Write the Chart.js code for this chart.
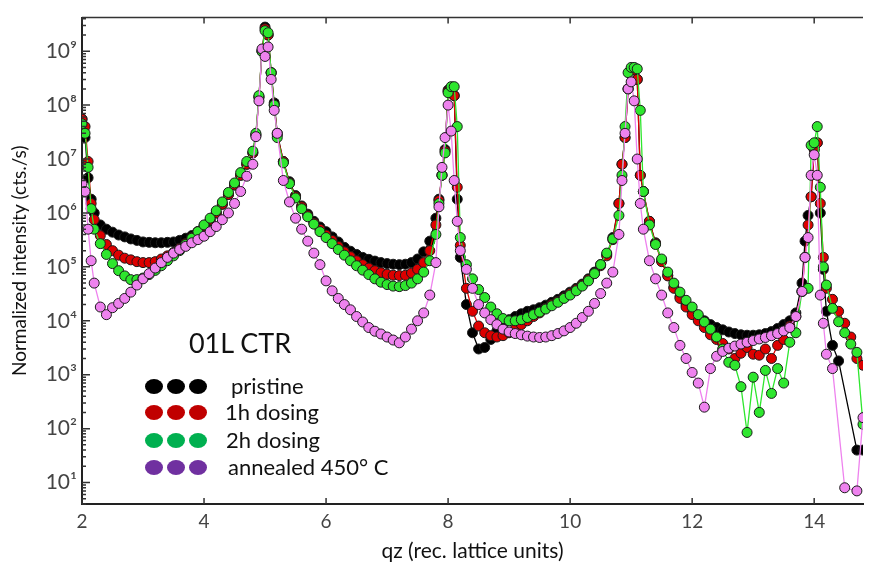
<!DOCTYPE html>
<html>
<head>
<meta charset="utf-8">
<script src="https://cdn.jsdelivr.net/npm/chart.js@4.4.1/dist/chart.umd.min.js"></script>
<style>
  body { margin: 0; background: #fff; }
  #wrap { position: relative; width: 869px; height: 566px; overflow: hidden; }
  #note { position: absolute; left: 240px; top: 342px; transform: translate(-50%, -50%);
          font: 27px Lato, "Noto Sans", sans-serif; color: #111; white-space: nowrap; }
  .row { position: absolute; left: 145px; height: 16px; }
  .dot { position: absolute; top: 0; width: 18px; height: 15px; border-radius: 50%; }
  .lab { position: absolute; font: 22px Lato, "Noto Sans", sans-serif; color: #111;
         white-space: nowrap; line-height: 22px; top: -4px; }
</style>
</head>
<body>
<div id="wrap">
  <canvas id="ctr" width="869" height="566"></canvas>
  <div id="note">01L CTR</div>
</div>
<script>
// qz grid (rec. lattice units)
const qz = [
  2.0, 2.05, 2.1, 2.15, 2.2, 2.3, 2.4, 2.5, 2.6, 2.7, 2.8, 2.9,
  3.0, 3.1, 3.2, 3.3, 3.4, 3.5, 3.6, 3.7, 3.8, 3.9,
  4.0, 4.1, 4.2, 4.3, 4.4, 4.5, 4.6, 4.7, 4.8, 4.85, 4.9, 4.95,
  5.0, 5.05, 5.1, 5.15, 5.2, 5.3, 5.4, 5.5, 5.6, 5.7, 5.8, 5.9,
  6.0, 6.1, 6.2, 6.3, 6.4, 6.5, 6.6, 6.7, 6.8, 6.9,
  7.0, 7.1, 7.2, 7.3, 7.4, 7.5, 7.6, 7.7, 7.8, 7.85, 7.9, 7.95,
  8.0, 8.05, 8.1, 8.15, 8.2, 8.3, 8.4, 8.5, 8.6, 8.7, 8.8, 8.9,
  9.0, 9.1, 9.2, 9.3, 9.4, 9.5, 9.6, 9.7, 9.8, 9.9,
  10.0, 10.1, 10.2, 10.3, 10.4, 10.5, 10.6, 10.7, 10.8, 10.85, 10.9, 10.95,
  11.0, 11.05, 11.1, 11.15, 11.2, 11.3, 11.4, 11.5, 11.6, 11.7, 11.8, 11.9,
  12.0, 12.1, 12.2, 12.3, 12.4, 12.5, 12.6, 12.7, 12.8, 12.9,
  13.0, 13.1, 13.2, 13.3, 13.4, 13.5, 13.6, 13.7, 13.8, 13.85, 13.9, 13.95,
  14.0, 14.05, 14.1, 14.15, 14.2, 14.3, 14.4, 14.5, 14.6, 14.7, 14.8
];

// intensities (cts./s), null = no point at that qz
const pristine = [
  5.5e7, 2.5e7, 4.5e6, 1.8e6, 1e6, 6e5, 5e5, 4.4e5, 3.9e5, 3.6e5, 3.3e5, 3.1e5,
  2.9e5, 2.85e5, 2.8e5, 2.8e5, 2.85e5, 2.9e5, 3.1e5, 3.4e5, 3.8e5, 4.5e5,
  5.5e5, 7.2e5, 1e6, 1.45e6, 2.2e6, 3.3e6, 5e6, 8e6, 1.3e7, 2.8e7, 1.4e8, 1e9,
  2.8e9, 2e9, 4e8, 1.1e8, 3e7, 9e6, 3.8e6, 2.1e6, 1.35e6, 9.5e5, 7e5, 5.5e5,
  4.5e5, 3.6e5, 2.9e5, 2.3e5, 1.95e5, 1.7e5, 1.5e5, 1.38e5, 1.28e5, 1.2e5,
  1.15e5, 1.12e5, 1.1e5, 1.12e5, 1.2e5, 1.4e5, 1.9e5, 3e5, 8e5, 1.8e6, 5e6, 1.5e7,
  1.9e8, 2e8, 1.5e8, 1.8e6, 1.5e5, 2e4, 6e3, 3e3, 3.2e3, 4.5e3, 6.5e3, 8.5e3,
  1.05e4, 1.2e4, 1.35e4, 1.5e4, 1.6e4, 1.75e4, 1.95e4, 2.2e4, 2.5e4, 2.9e4,
  3.4e4, 4e4, 4.8e4, 6e4, 8e4, 1.1e5, 1.7e5, 3.5e5, 1.5e6, 8e6, 2.5e7, 2e8,
  4.5e8, 4.5e8, 3e8, 5e6, 2.5e6, 7e5, 2.8e5, 1.3e5, 7e4, 4.2e4, 2.8e4, 2e4,
  1.5e4, 1.2e4, 1e4, 8.5e3, 7.5e3, 6.8e3, 6.2e3, 5.8e3, 5.5e3, 5.4e3,
  5.4e3, 5.5e3, 5.8e3, 6.3e3, 7.2e3, 8.5e3, 1e4, 1.4e4, 5e4, 3e5, 9e5, 2e6,
  1.5e7, 2e7, 1e6, 9e4, 1.5e4, 3.5e3, 1.8e3, null, null, 40, 40
];
const dosing1h = [
  5.5e7, 4e7, 9e6, 1.5e6, 7.5e5, 3.8e5, 2.6e5, 2e5, 1.65e5, 1.45e5, 1.35e5, 1.25e5,
  1.2e5, 1.2e5, 1.25e5, 1.4e5, 1.6e5, 1.85e5, 2.2e5, 2.7e5, 3.5e5, 4.5e5,
  5.7e5, 7.4e5, 1e6, 1.45e6, 2.2e6, 3.3e6, 5e6, 8e6, 1.3e7, 2.8e7, 1.4e8, 1e9,
  2.6e9, 2e9, 4e8, 1e8, 2.8e7, 9e6, 3.6e6, 2e6, 1.3e6, 9e5, 6.5e5, 5e5,
  3.9e5, 3.1e5, 2.4e5, 1.9e5, 1.55e5, 1.3e5, 1.1e5, 9.5e4, 8.5e4, 7.8e4,
  7.3e4, 7e4, 6.9e4, 7e4, 7.7e4, 9e4, 1.2e5, 2e5, 6e5, 1.7e6, 5e6, 1.4e7,
  1.8e8, 2e8, 1.5e8, 3e6, 2.5e5, 4e4, 1.5e4, 8e3, 6e3, 5.3e3, 5e3, 5.3e3,
  6e3, 7e3, 8.5e3, 1e4, 1.2e4, 1.4e4, 1.7e4, 2e4, 2.3e4, 2.7e4,
  3.2e4, 3.8e4, 4.6e4, 5.8e4, 7.5e4, 1.05e5, 1.6e5, 3.2e5, 1.5e6, 8e6, 2.5e7, 2e8,
  4.5e8, 4.5e8, 3e8, 5e6, 2.5e6, 7e5, 2.7e5, 1.25e5, 6.8e4, 4e4, 2.6e4, 1.8e4,
  1.3e4, 1e4, 7.5e3, 5.5e3, 4.5e3, 3.8e3, 3e3, 2e3, 2.5e3, 3.2e3,
  2.4e3, 2.3e3, 3e3, 2e3, 3.5e3, 4.5e3, 8e3, 1.2e4, 3.5e4, 1.5e5, 6e5, 2e6,
  1.5e7, 2e7, 1.5e6, 1.5e5, 4e4, 2.5e4, 1.5e4, 9e3, 5e3, 2e3, 1.5e3
];
const dosing2h = [
  4.5e7, 3e7, 7e6, 1.2e6, 5e5, 2.7e5, 1.7e5, 1.15e5, 8.5e4, 6.8e4, 5.8e4, 5.8e4,
  6.2e4, 7.2e4, 8.6e4, 1.05e5, 1.3e5, 1.6e5, 2e5, 2.6e5, 3.4e5, 4.5e5,
  6e5, 8e5, 1.1e6, 1.6e6, 2.4e6, 3.6e6, 5.6e6, 9e6, 1.4e7, 3e7, 1.5e8, 1e9,
  2.4e9, 2.2e9, 4e8, 1e8, 2.5e7, 8.5e6, 3.5e6, 1.9e6, 1.2e6, 8.5e5, 6.2e5, 4.5e5,
  3.5e5, 2.7e5, 2.1e5, 1.65e5, 1.3e5, 1.05e5, 8.7e4, 7.2e4, 6e4, 5.2e4,
  4.7e4, 4.4e4, 4.3e4, 4.5e4, 5e4, 6e4, 8e4, 1.3e5, 4e5, 1.5e6, 5e6, 1.3e7,
  1.7e8, 2.2e8, 2.2e8, 4e7, 3.5e5, 1.1e5, 6e4, 3.8e4, 2.7e4, 1.8e4, 1.35e4, 1.1e4,
  1e4, 1e4, 1.05e4, 1.15e4, 1.3e4, 1.45e4, 1.65e4, 1.9e4, 2.2e4, 2.6e4,
  3e4, 3.6e4, 4.4e4, 5.5e4, 7.5e4, 1.1e5, 1.8e5, 3.3e5, 9e5, 5e6, 4e7, 4e8,
  5e8, 5e8, 4.7e8, 8e7, 2.5e6, 6e5, 2.6e5, 1.4e5, 8e4, 5e4, 3.4e4, 2.4e4,
  1.8e4, 1.3e4, 9.5e3, 7e3, 5e3, 3e3, 1.7e3, 1.5e3, 600, 85,
  900, 200, 1.2e3, 450, 1.3e3, 700, 4e3, 6e3, 3.5e4, null, 4e4, 1.8e7,
  2e7, 4e7, 3e6, 1e5, 4.6e4, 1.7e4, 9.6e3, 6e3, 3.7e3, 2.6e3, 120
];
const annealed = [
  3.5e6, 2.5e6, 5e5, 1.3e5, 5e4, 1.8e4, 1.3e4, 1.75e4, 2.1e4, 2.6e4, 3.4e4, 4.6e4,
  6e4, 7.5e4, 9.5e4, 1.2e5, 1.5e5, 1.8e5, 2.1e5, 2.4e5, 2.8e5, 3.2e5,
  3.7e5, 4.5e5, 5.6e5, 7.5e5, 1e6, 1.5e6, 2.5e6, 4.8e6, 8e6, 2.6e7, 1.2e8, 1.1e9,
  8e8, 1.2e9, 3e8, 8e7, 3e7, 4e6, 1.6e6, 8e5, 5e5, 3e5, 1.8e5, 1.1e5,
  5.5e4, 3.6e4, 2.6e4, 2e4, 1.6e4, 1.2e4, 9.5e3, 7.5e3, 6.4e3, 5.7e3,
  5e3, 4.4e3, 3.9e3, 5e3, 7e3, 1e4, 1.4e4, 3e4, 1.2e5, 1.3e6, 7e6, 2.5e7,
  1e8, 3.3e7, 4e6, 7e5, 2e5, 9e4, 4e4, 2e4, 1.4e4, 1.05e4, 8.5e3, 7e3,
  6.2e3, 5.8e3, 5.5e3, 5.2e3, 5e3, 4.9e3, 5e3, 5.3e3, 5.8e3, 6.5e3,
  7.5e3, 9e3, 1.15e4, 1.5e4, 2.1e4, 3.2e4, 5e4, 8e4, 4e5, 4e6, 3e7, 2e8,
  2.7e8, 1.2e8, 1e7, 1.5e6, 5e5, 1.3e5, 6e4, 3e4, 1.4e4, 7.5e3, 3.5e3, 2e3,
  1.1e3, 700, 250, 1.3e3, 2.2e3, 2.7e3, 3.1e3, 3.4e3, 3.7e3, 4e3,
  4.3e3, 4.6e3, 4.9e3, 5.3e3, 5.8e3, 6.5e3, 7.5e3, 1.2e4, 3.5e4, 1.5e5, 3.5e5, 5e6,
  1.2e7, 5e6, 3e4, 9e3, 2.4e3, 1.3e3, null, 8, null, 7, 160
];

const seriesNames = ['pristine', '1h dosing', '2h dosing', 'annealed 450° C'];
const markerColors = ['#000000', '#dd0000', '#2ee62e', '#ee82ee'];
const legendColors = ['#000000', '#c00000', '#00b050', '#7030a0'];
const xTicks = [2, 4, 6, 8, 10, 12, 14];
const yDecades = [1, 2, 3, 4, 5, 6, 7, 8, 9];

const allSeries = [pristine, dosing1h, dosing2h, annealed];
allSeries.forEach((s, i) => {
  if (s.length !== qz.length) throw new Error(seriesNames[i] + ' has ' + s.length + ' values, qz has ' + qz.length);
});

const supDigits = '⁰¹²³⁴⁵⁶⁷⁸⁹';
function isDecade(v) {
  const e = Math.log10(v);
  return Math.abs(e - Math.round(e)) < 1e-9;
}

// inward tick marks + top frame line, matplotlib style
const frame = {
  id: 'frame',
  afterDraw(chart) {
    const {ctx, chartArea: a, scales: {x, y}} = chart;
    ctx.save();
    ctx.strokeStyle = '#333';
    ctx.lineWidth = 1.5;
    ctx.beginPath();
    ctx.moveTo(a.left, a.top);
    ctx.lineTo(a.right, a.top);
    x.ticks.forEach(t => {
      const px = x.getPixelForValue(t.value);
      ctx.moveTo(px, a.bottom);
      ctx.lineTo(px, a.bottom - 6);
      ctx.moveTo(px, a.top);
      ctx.lineTo(px, a.top + 6);
    });
    y.ticks.forEach(t => {
      const py = y.getPixelForValue(t.value);
      const len = isDecade(t.value) ? 8 : 4;
      ctx.moveTo(a.left, py);
      ctx.lineTo(a.left + len, py);
    });
    ctx.stroke();
    ctx.restore();
  }
};

const drawOrder = [3, 2, 1, 0]; // annealed on top
const chart = new Chart(document.getElementById('ctr'), {
  type: 'line',
  data: {
    datasets: allSeries.map((s, i) => ({
      label: seriesNames[i],
      data: qz.map((q, k) => ({x: q, y: s[k]})),
      borderColor: markerColors[i],
      borderWidth: 1.3,
      pointBackgroundColor: markerColors[i],
      pointBorderColor: '#1a1a1a',
      pointBorderWidth: 1,
      pointRadius: 5,
      spanGaps: true,
      order: drawOrder[i]
    }))
  },
  options: {
    responsive: false,
    animation: false,
    devicePixelRatio: 1,
    layout: {padding: {top: 13, right: 0, bottom: 0, left: 0}},
    plugins: {legend: {display: false}, tooltip: {enabled: false}},
    scales: {
      x: {
        type: 'linear',
        min: 2,
        max: 14.8,
        grid: {display: false, drawTicks: false},
        border: {display: true, color: '#222', width: 2},
        afterBuildTicks: s => { s.ticks = xTicks.map(v => ({value: v})); },
        afterFit: s => { s.height = 62; },
        ticks: {
          autoSkip: false, maxRotation: 0, padding: 6, color: '#444',
          font: {family: 'Lato, "Noto Sans", sans-serif', size: 19}
        },
        title: {
          display: true, text: 'qz (rec. lattice units)', color: '#111',
          font: {family: 'Lato, "Noto Sans", sans-serif', size: 21},
          padding: {top: 0, bottom: 2}
        }
      },
      y: {
        type: 'logarithmic',
        min: 4,
        max: 4.2e9,
        grid: {display: false, drawTicks: false},
        border: {display: true, color: '#222', width: 2},
        afterBuildTicks: s => {
          const vals = [];
          [0].concat(yDecades).forEach(e => {
            for (let m = 1; m <= 9; m++) {
              const v = m * Math.pow(10, e);
              if (v >= 4 && v <= 4.2e9) vals.push(v);
            }
          });
          s.ticks = vals.map(v => ({value: v}));
        },
        afterFit: s => { s.width = 82; },
        ticks: {
          autoSkip: false, padding: 5, color: '#444',
          font: {family: 'Lato, "Noto Sans", sans-serif', size: 21},
          callback: v => isDecade(v) ? '10' + supDigits[Math.round(Math.log10(v))] : ''
        },
        title: {
          display: true, text: 'Normalized intensity (cts./s)', color: '#111',
          font: {family: 'Lato, "Noto Sans", sans-serif', size: 19},
          padding: {top: 8, bottom: 0}
        }
      }
    }
  },
  plugins: [frame]
});

// legend drawn as text overlay, three dots per entry
const rowY = [379, 405, 433, 460];
const labelX = [86, 80, 81, 83];
const wrap = document.getElementById('wrap');
seriesNames.forEach((name, i) => {
  const row = document.createElement('div');
  row.className = 'row';
  row.style.top = rowY[i] + 'px';
  [0, 22, 44].forEach(dx => {
    const d = document.createElement('span');
    d.className = 'dot';
    d.style.left = dx + 'px';
    d.style.background = legendColors[i];
    row.appendChild(d);
  });
  const t = document.createElement('span');
  t.className = 'lab';
  t.style.left = labelX[i] + 'px';
  t.textContent = name;
  row.appendChild(t);
  wrap.appendChild(row);
});
</script>
</body>
</html>
